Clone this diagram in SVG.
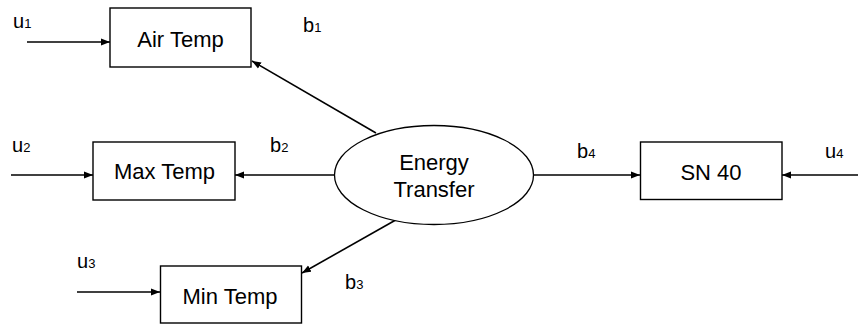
<svg xmlns="http://www.w3.org/2000/svg" width="858" height="325" viewBox="0 0 858 325">
<defs>
<style>
.box{fill:#fff;stroke:#000;stroke-width:1.4}
.ell{fill:#fff;stroke:#000;stroke-width:1.3}
.t{font-family:"Liberation Sans",Arial,sans-serif;font-size:22px;fill:#000;text-anchor:middle}
.l{font-family:"Liberation Sans",Arial,sans-serif;font-size:20px;fill:#000}
.s{font-size:13px}
.c{stroke:#000;stroke-width:1.6;fill:none;marker-end:url(#ah)}
</style>
<marker id="ah" markerUnits="userSpaceOnUse" markerWidth="10" markerHeight="8" refX="9" refY="4" orient="auto">
<path d="M0,0.5 L9,4 L0,7.5 z" fill="#000"/>
</marker>
</defs>
<g id="connectors">
<line class="c" x1="27" y1="42" x2="110" y2="42"/>
<line class="c" x1="376" y1="133" x2="252" y2="61"/>
<line class="c" x1="11" y1="175" x2="93" y2="175"/>
<line class="c" x1="334" y1="175" x2="235" y2="175"/>
<line class="c" x1="77" y1="292" x2="160" y2="292"/>
<line class="c" x1="401" y1="217" x2="302" y2="273"/>
<line class="c" x1="533" y1="175" x2="640" y2="175"/>
<line class="c" x1="858" y1="175" x2="782" y2="175"/>
</g>
<g id="air-temp">
<rect class="box" x="110" y="8" width="141" height="59"/>
<text class="t" x="180.5" y="47">Air Temp</text>
</g>
<g id="max-temp">
<rect class="box" x="93" y="142" width="142" height="58"/>
<text class="t" x="164.5" y="179">Max Temp</text>
</g>
<g id="min-temp">
<rect class="box" x="160.5" y="266" width="141" height="57"/>
<text class="t" x="230" y="304">Min Temp</text>
</g>
<g id="sn40">
<rect class="box" x="640.5" y="142" width="141.5" height="57.5"/>
<text class="t" x="711" y="180">SN 40</text>
</g>
<g id="energy-transfer">
<ellipse class="ell" cx="434" cy="175" rx="99.5" ry="49.5"/>
<text class="t" x="434" y="170">Energy</text>
<text class="t" x="434" y="197">Transfer</text>
</g>
<g id="labels">
<text class="l" x="13" y="28">u<tspan class="s">1</tspan></text>
<text class="l" x="303" y="32">b<tspan class="s">1</tspan></text>
<text class="l" x="12" y="152">u<tspan class="s">2</tspan></text>
<text class="l" x="270" y="152">b<tspan class="s">2</tspan></text>
<text class="l" x="77" y="268">u<tspan class="s">3</tspan></text>
<text class="l" x="345" y="289">b<tspan class="s">3</tspan></text>
<text class="l" x="577" y="158">b<tspan class="s">4</tspan></text>
<text class="l" x="825" y="158">u<tspan class="s">4</tspan></text>
</g>
</svg>
